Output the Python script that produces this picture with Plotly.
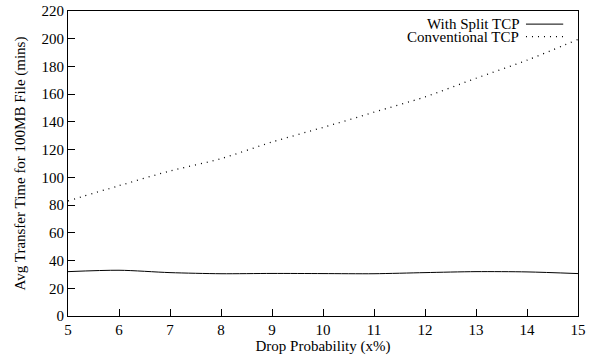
import plotly.graph_objects as go

drop_prob = [5, 6, 7, 8, 9, 10, 11, 12, 13, 14, 15]
split_tcp = [32, 33, 31.3, 30.5, 30.7, 30.6, 30.5, 31.3, 32, 31.8, 30.6]
conv_tcp = [83, 94, 104.6, 113.5, 125.5, 136, 147, 158, 171.5, 184.5, 199.5]

x_ticks = list(range(5, 16))
y_ticks = list(range(0, 221, 20))

FONT = "Liberation Serif"
FS = 15
DOT = "1px,5px"

fig = go.Figure()
fig.add_trace(go.Scatter(x=drop_prob, y=split_tcp, mode="lines", name="With Split TCP",
                         line=dict(color="black", width=1, shape="spline", smoothing=0.8)))
fig.add_trace(go.Scatter(x=drop_prob, y=conv_tcp, mode="lines", name="Conventional TCP",
                         line=dict(color="black", width=1.3, dash=DOT, shape="spline", smoothing=0.8)))

fig.update_layout(
    width=595, height=360,
    margin=dict(l=68, r=17, t=11, b=44, autoexpand=False),
    paper_bgcolor="white", plot_bgcolor="white",
    showlegend=False,
    font=dict(family=FONT, size=FS, color="black"),
)
fig.update_xaxes(range=[5, 15], tickvals=x_ticks, ticks="inside", ticklen=7, tickcolor="black",
                 showline=True, linecolor="black", linewidth=1, mirror=True, showgrid=False,
                 zeroline=False,
                 title=dict(text="Drop Probability (x%)", standoff=2, font=dict(family=FONT, size=FS)),
                 tickfont=dict(family=FONT, size=FS), automargin=False)
fig.update_yaxes(range=[0, 220], tickvals=y_ticks, ticks="inside", ticklen=7, tickcolor="black",
                 showline=True, linecolor="black", linewidth=1, mirror=True, showgrid=False,
                 zeroline=False,
                 title=dict(text="Avg Transfer Time for 100MB File (mins)", standoff=12,
                            font=dict(family=FONT, size=FS)),
                 tickfont=dict(family=FONT, size=FS), automargin=False)

# custom legend (text on left, sample on right, gnuplot style)
legend_rows = [("With Split TCP", "solid", 0.957), ("Conventional TCP", DOT, 0.916)]
for label, dash, yp in legend_rows:
    fig.add_annotation(xref="paper", yref="paper", x=0.886, y=yp, text=label, showarrow=False,
                       xanchor="right", yanchor="middle", borderpad=0,
                       font=dict(family=FONT, size=FS))
    fig.add_shape(type="line", xref="paper", yref="paper", x0=0.898, x1=0.971, y0=yp, y1=yp,
                  line=dict(color="black", width=1.3 if dash == DOT else 1, dash=dash))

fig.write_html("out.html", config={"displayModeBar": False},
               post_script="document.body.style.margin='0';document.body.style.padding='0';")
